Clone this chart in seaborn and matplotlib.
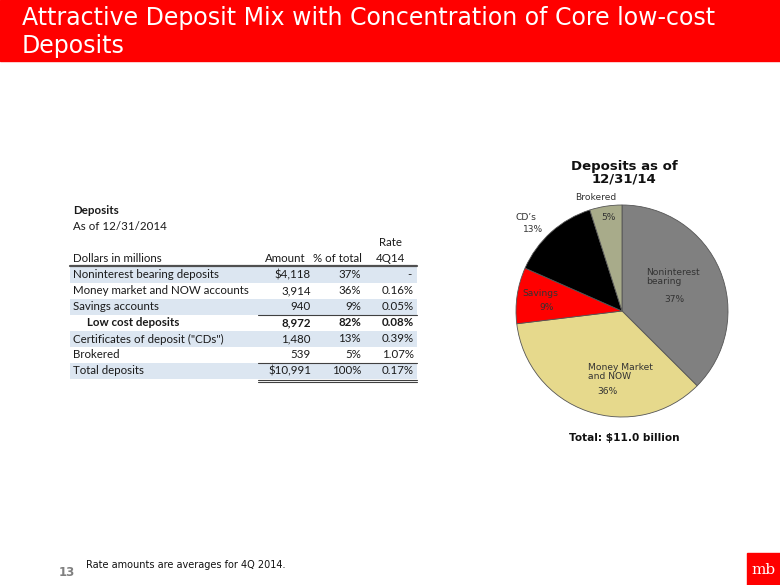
import matplotlib
matplotlib.use("Agg")
import matplotlib.pyplot as plt
import seaborn as sns
from matplotlib.patches import Rectangle

# table data (dollars in millions, as of 12/31/2014)
row_labels = ["Noninterest bearing deposits", "Money market and NOW accounts",
              "Savings accounts", "Low cost deposits",
              "Certificates of deposit (\"CDs\")", "Brokered", "Total deposits"]
row_amounts = ["$4,118", "3,914", "940", "8,972", "1,480", "539", "$10,991"]
row_pct = ["37%", "36%", "9%", "82%", "13%", "5%", "100%"]
row_rate = ["-", "0.16%", "0.05%", "0.08%", "0.39%", "1.07%", "0.17%"]
bold_rows = [3]
shaded_rows = [0, 2, 4, 6]

# pie data
pie_names = ["Noninterest\nbearing", "Money Market\nand NOW", "Savings", "CD\u2019s", "Brokered"]
pie_amounts = [4118, 3914, 940, 1480, 539]
pie_pct = ["37%", "36%", "9%", "13%", "5%"]
pie_colors = ["#808080", "#E6D98C", "#FF0000", "#000000", "#A8AB8A"]

sns.set_theme(style="white")
plt.rcParams['font.family'] = ['DejaVu Sans']

W, H = 780, 585
fig = plt.figure(figsize=(W / 100, H / 100), dpi=100)

# pie first, overlay axes for text on top
cx, cy, r = 622, 311, 106
pax = fig.add_axes([(cx - r) / W, (H - cy - r) / H, 2 * r / W, 2 * r / H])
pax.pie(pie_amounts, colors=pie_colors, startangle=90, counterclock=False,
        wedgeprops=dict(edgecolor="#555555", linewidth=0.6))
pax.set_xlim(-1, 1)
pax.set_ylim(-1, 1)
pax.set_aspect("equal")
pax.axis("off")

bg = fig.add_axes([0, 0, 1, 1])
bg.set_xlim(0, W)
bg.set_ylim(H, 0)
bg.axis("off")
bg.set_zorder(5)

# title bar
bg.add_patch(Rectangle((0, 0), W, 61, color="#FF0000", zorder=0))
bg.text(22, 18, "Attractive Deposit Mix with Concentration of Core low-cost",
        color="white", fontsize=17, va="center", ha="left")
bg.text(22, 46, "Deposits", color="white", fontsize=17, va="center", ha="left")

# ---- table ----
tfont = ['Lato', 'DejaVu Sans']
tcol = "#1a1a1a"
fs = 8.3
bg.text(73, 210, "Deposits", fontsize=fs, fontweight="bold", family=tfont, color=tcol, va="center")
bg.text(73, 226, "As of 12/31/2014", fontsize=fs, family=tfont, color=tcol, va="center")
bg.text(391, 242, "Rate", fontsize=fs, family=tfont, color=tcol, va="center", ha="center")
bg.text(73, 258, "Dollars in millions", fontsize=fs, family=tfont, color=tcol, va="center")
bg.text(306, 258, "Amount", fontsize=fs, family=tfont, color=tcol, va="center", ha="right")
bg.text(362, 258, "% of total", fontsize=fs, family=tfont, color=tcol, va="center", ha="right")
bg.text(391, 258, "4Q14", fontsize=fs, family=tfont, color=tcol, va="center", ha="center")
bg.plot([70, 417], [266, 266], color="#505050", lw=1.6)

top = 267
rh = 16
for i, lab in enumerate(row_labels):
    y0 = top + i * rh
    yc = y0 + rh / 2
    if i in shaded_rows:
        bg.add_patch(Rectangle((70, y0), 347, rh, color="#DCE6F1", zorder=0, lw=0))
    fw = "bold" if i in bold_rows else "normal"
    x_lab = 87 if i in bold_rows else 73
    bg.text(x_lab, yc, lab, fontsize=fs, family=tfont, color=tcol, va="center", fontweight=fw)
    bg.text(311, yc, row_amounts[i], fontsize=fs, family=tfont, color=tcol, va="center", ha="right", fontweight=fw)
    bg.text(361, yc, row_pct[i], fontsize=fs, family=tfont, color=tcol, va="center", ha="right", fontweight=fw)
    if row_rate[i] == "-":
        bg.text(409, yc, row_rate[i], fontsize=fs, family=tfont, color=tcol, va="center", ha="center")
    else:
        bg.text(414, yc, row_rate[i], fontsize=fs, family=tfont, color=tcol, va="center", ha="right", fontweight=fw)

bg.plot([258, 417], [top + 3 * rh, top + 3 * rh], color="#404040", lw=0.8)
bg.plot([258, 417], [top + 6 * rh, top + 6 * rh], color="#404040", lw=0.8)
bg.plot([258, 417], [top + 7 * rh + 0.5, top + 7 * rh + 0.5], color="#404040", lw=0.8)
bg.plot([258, 417], [top + 7 * rh + 3, top + 7 * rh + 3], color="#404040", lw=0.8)

# ---- pie labels ----
lcol = "#333333"
lfs = 6.6
name_pos = [(646, 277, "left"), (588, 372, "left"), (522, 293, "left"), (515, 217, "left"), (596, 197, "center")]
pct_pos = [(674, 300), (607, 391), (547, 307), (533, 229), (608, 217)]
for k in range(len(pie_names)):
    nx, ny, ha = name_pos[k]
    bg.text(nx, ny, pie_names[k], fontsize=lfs, color=lcol, ha=ha, va="center", linespacing=1.05)
    px, py = pct_pos[k]
    bg.text(px, py, pie_pct[k], fontsize=lfs, color=lcol, ha="center", va="center")

bg.text(624, 173, "Deposits as of\n12/31/14", fontsize=9.5, fontweight="bold",
        color="#111111", ha="center", va="center", linespacing=1.0)
bg.text(624, 438, "Total: $11.0 billion", fontsize=7.6, fontweight="bold",
        color="#111111", ha="center", va="center")

# footer
bg.text(67, 573, "13", fontsize=8.5, fontweight="bold", color="#808080", ha="center", va="center")
bg.text(86, 565, "Rate amounts are averages for 4Q 2014.", fontsize=7.0, color="#111111",
        ha="left", va="center")
bg.add_patch(Rectangle((747, 553), 33, 32, color="#FF0000", zorder=0))
bg.text(763, 570, "mb", fontsize=11, color="white", family=["DejaVu Serif"],
        ha="center", va="center")

fig.savefig("out.png", dpi=100)
